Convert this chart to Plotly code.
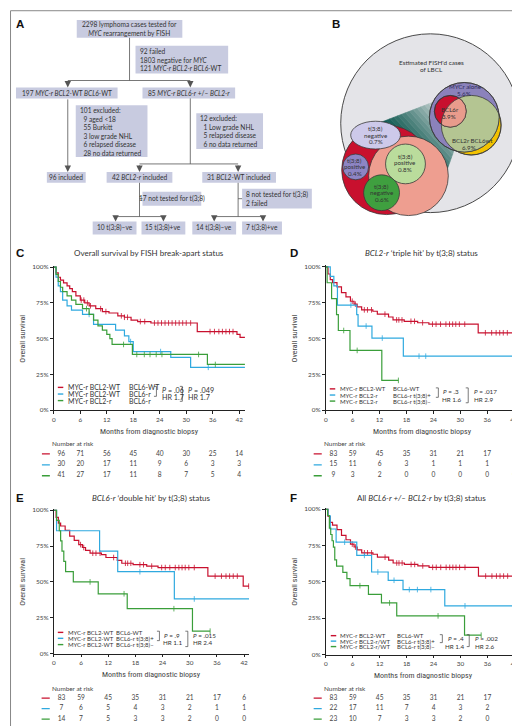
import numpy as np
import plotly.graph_objects as go

W, H = 520, 726
RED, BLUE, GREEN = "#c8102e", "#2fa9df", "#3a9e3a"
TXT = "#333333"
FONT = "Lato, 'Open Sans', sans-serif"
NARROW = "'Liberation Sans Narrow', 'Roboto Condensed', Roboto, sans-serif"

# ---------------- survival data (months, % alive) ----------------
month_ticks = [0, 6, 12, 18, 24, 30, 36, 42]
pct_ticks = [0, 25, 50, 75, 100]
pct_labels = ["0%", "25%", "50%", "75%", "100%"]

# C: by FISH break-apart status
c_wt_t = [0, 0.5, 1.0, 1.5, 2.2, 3.0, 3.6, 4.2, 5.0, 6.0, 7.0, 8.0, 9.5, 11.0, 12.5, 14.5, 16.0, 17.5, 19.0, 22.0, 32.5, 41.5, 42.2]
c_wt_s = [100, 96, 93, 91, 89, 87, 85, 83, 80, 77, 75, 73, 71, 69, 68, 66, 65, 63, 62, 61, 55, 53, 51]
c_wt_cens = [6.2, 6.8, 7.6, 8.3, 10.6, 11.8, 15.3, 16.0, 16.7, 19.6, 20.6, 22.8, 23.6, 24.4, 25.2, 26.0, 26.8,
             27.6, 28.4, 29.2, 30.0, 31.0, 35.4, 36.4, 37.4, 38.2, 39.0, 39.8, 40.6]
c_bcl6_t = [0, 0.5, 1.0, 1.5, 2.0, 3.0, 4.0, 6.5, 9.0, 14.0, 16.0, 17.0, 18.0, 26.5, 31.0]
c_bcl6_s = [100, 93, 87, 83, 77, 73, 70, 67, 60, 56, 52, 48, 41, 37, 30]
c_bcl6_cens = [8.0, 17.4, 24.2, 35.0]
c_bcl2_t = [0, 0.5, 1.0, 1.5, 2.0, 3.0, 4.0, 5.0, 6.5, 8.0, 9.0, 10.0, 11.0, 12.0, 12.7, 13.2, 17.8, 34.8]
c_bcl2_s = [100, 95, 90, 86, 83, 80, 77, 74, 71, 67, 63, 59, 56, 53, 50, 46, 39, 32]
c_bcl2_cens = [7.4, 15.8, 18.8, 20.5, 21.8, 23.2, 24.5, 32.8, 36.6]

# reference group MYC-r BCL2-WT BCL6-WT used in D, E and F
ref_t = [0, 0.5, 1.0, 1.5, 2.5, 3.5, 4.5, 5.5, 6.3, 7.0, 8.0, 10.5, 11.5, 14.0, 15.0, 17.5, 20.5, 23.0, 34.0, 41.8]
ref_s = [100, 95, 91, 89, 86, 82, 79, 76, 74, 72, 70, 69, 67, 65, 63, 62, 61, 60, 54, 47]
ref_cens = [5.9, 6.6, 8.6, 9.3, 10.2, 13.2, 15.8, 16.3, 17.0, 19.0, 19.8, 21.6, 23.8, 24.6, 25.6, 26.8, 27.6,
            28.3, 29.0, 29.8, 31.0, 35.6, 37.0, 38.0, 38.8, 39.6, 40.5, 43.0]

# D: BCL2-r triple hit
d_pos_t = [0, 1.0, 1.8, 2.6, 6.9, 7.2, 10.3, 17.3]
d_pos_s = [100, 93.3, 86.7, 73.3, 66.7, 58.7, 50.3, 37.7]
d_pos_cens = [5.6, 9.0, 12.6, 20.8, 22.3]
d_neg_t = [0, 0.3, 1.3, 2.4, 2.8, 5.4, 12.5]
d_neg_s = [100, 88.9, 77.8, 66.7, 55.6, 41.7, 20.8]
d_neg_cens = [4.0, 7.0, 16.2]

# E: BCL6-r double hit
e_pos_t = [0, 0.6, 10.1, 14.1, 26.6]
e_pos_s = [100, 85.7, 71.4, 57.1, 38.1]
e_pos_cens = [19.0, 31.0]
e_neg_t = [0, 0.6, 1.2, 1.5, 1.8, 2.2, 2.6, 4.3, 9.8, 16.2, 30.6]
e_neg_s = [100, 92.9, 85.7, 78.6, 71.4, 64.3, 57.1, 50.0, 41.7, 31.3, 15.6]
e_neg_cens = [8.0, 15.5, 26.5, 34.5]

# F: all BCL6-r +/- BCL2-r
f_pos_t = [0, 0.5, 1.0, 2.3, 6.9, 10.2, 13.9, 17.2, 26.5]
f_pos_s = [100, 95.5, 86.4, 77.3, 68.2, 56.8, 51.1, 44.7, 33.5]
f_pos_cens = [4.2, 8.6, 11.6, 15.2, 18.6, 20.4, 23.4, 31.0]
f_neg_t = [0, 0.4, 0.8, 1.1, 1.4, 1.7, 2.0, 2.4, 3.8, 4.7, 5.4, 9.5, 12.4, 15.8, 30.9]
f_neg_s = [100, 95.7, 87.0, 82.6, 78.3, 73.9, 65.2, 60.9, 56.5, 52.2, 47.4, 41.4, 35.5, 26.6, 13.3]
f_neg_cens = [7.6, 14.2, 25.0, 34.6]

# numbers at risk
risk_c = [[96, 71, 56, 45, 40, 30, 25, 14], [30, 20, 17, 11, 9, 6, 3, 3], [41, 27, 17, 11, 8, 7, 5, 4]]
risk_ref = [83, 59, 45, 35, 31, 21, 17, 6]
risk_d = [risk_ref, [15, 11, 6, 3, 1, 1, 1, 1], [9, 3, 2, 0, 0, 0, 0, 0]]
risk_e = [risk_ref, [7, 6, 5, 4, 3, 2, 1, 1], [14, 7, 5, 3, 3, 2, 0, 0]]
risk_f = [risk_ref, [22, 17, 11, 7, 4, 3, 2, 2], [23, 10, 7, 3, 3, 2, 0, 0]]


def fx(px):
    return px / W


def fy(py):
    return 1 - py / H


def step_at(t, s, tc):
    i = np.searchsorted(t, tc, side="right") - 1
    return s[i]


fig = go.Figure()
shapes, annos = [], []


def note(px, py, text, size=6.6, xanchor="left", yanchor="middle", color=TXT, family=FONT, align="left", **kw):
    annos.append(dict(x=fx(px), y=fy(py), xref="paper", yref="paper", text=text, showarrow=False,
                      xanchor=xanchor, yanchor=yanchor, align=align, borderpad=0,
                      font=dict(size=size, color=color, family=family), **kw))


def hline(x0, x1, y, color="#555", w=0.8):
    shapes.append(dict(type="line", xref="paper", yref="paper", x0=fx(x0), x1=fx(x1), y0=fy(y), y1=fy(y),
                       line=dict(color=color, width=w)))


def vline(x, y0, y1, color="#555", w=0.8):
    shapes.append(dict(type="line", xref="paper", yref="paper", x0=fx(x), x1=fx(x), y0=fy(y0), y1=fy(y1),
                       line=dict(color=color, width=w)))


def arrow(x, y0, y1):
    annos.append(dict(x=fx(x), y=fy(y1), xref="paper", yref="paper", ax=0, ay=-(y1 - y0), text="",
                      showarrow=True, arrowhead=2, arrowsize=1.6, arrowwidth=0.8, arrowcolor="#555"))


def poly_path(pts):
    return "M " + " L ".join(f"{fx(a):.5f},{fy(b):.5f}" for a, b in pts) + " Z"


def circle(cx, cy, r, fill, line="#3a3a3a", lw=0.8, rx=None):
    rx = r if rx is None else rx
    shapes.append(dict(type="circle", xref="paper", yref="paper", x0=fx(cx - rx), x1=fx(cx + rx),
                       y0=fy(cy + r), y1=fy(cy - r), fillcolor=fill,
                       line=dict(color=line, width=lw)))


def intersect(c1, c2, n=180):
    ang = np.linspace(0, 2 * np.pi, n, endpoint=False)
    pts = []
    for (ax_, ay_, ar), (bx, by, br) in ((c1, c2), (c2, c1)):
        xs, ys = ax_ + ar * np.cos(ang), ay_ + ar * np.sin(ang)
        keep = (xs - bx) ** 2 + (ys - by) ** 2 <= br ** 2
        pts += list(zip(xs[keep], ys[keep]))
    pts = np.array(pts)
    cen = pts.mean(axis=0)
    order = np.argsort(np.arctan2(pts[:, 1] - cen[1], pts[:, 0] - cen[0]))
    return [tuple(p) for p in pts[order]]


# ---------------- panel A: flowchart ----------------
BOX = "#c8cbe0"
boxes = [
    (67, 10, 173, 28, "2298 lymphoma cases tested for<br><i>MYC</i> rearrangement by FISH", "c"),
    (126, 36, 219, 64, "92 failed<br>1803 negative for <i>MYC</i><br>121 <i>MYC-r BCL2-r BCL6-</i>WT", "l"),
    (6, 78, 108, 89, "197 <i>MYC-r BCL2-</i>WT <i>BCL6-</i>WT", "c"),
    (133, 78, 226, 89, "85 <i>MYC-r BCL6-r</i> +/– <i>BCL2-r</i>", "c"),
    (66, 96, 138, 148, "101 excluded:<br>&nbsp;&nbsp;9 aged &lt;18<br>&nbsp;&nbsp;55 Burkitt<br>&nbsp;&nbsp;3 low grade NHL"
                       "<br>&nbsp;&nbsp;6 relapsed disease<br>&nbsp;&nbsp;28 no data returned", "l"),
    (187, 104, 254, 140, "12 excluded:<br>&nbsp;&nbsp;1 Low grade NHL<br>&nbsp;&nbsp;5 relapsed disease"
                         "<br>&nbsp;&nbsp;6 no data returned", "l"),
    (37, 163, 76, 174, "96 included", "c"),
    (97, 163, 163, 174, "42 <i>BCL2-r</i> included", "c"),
    (193, 163, 267, 174, "31 <i>BCL2-</i>WT included", "c"),
    (133, 183, 192, 197, "17 not tested for t(3;8)", "c"),
    (233, 180, 303, 200, "8 not tested for t(3;8)<br>2 failed", "l"),
    (83, 213, 127, 226, "10 t(3;8)–ve", "c"),
    (132, 213, 176, 226, "15 t(3;8)+ve", "c"),
    (183, 213, 227, 226, "14 t(3;8)–ve", "c"),
    (233, 213, 273, 226, "7 t(3;8)+ve", "c"),
]
for x0, y0, x1, y1, text, al in boxes:
    shapes.append(dict(type="rect", xref="paper", yref="paper", x0=fx(x0), x1=fx(x1), y0=fy(y1), y1=fy(y0),
                       fillcolor=BOX, line=dict(width=0), layer="below"))
    if al == "c":
        note((x0 + x1) / 2, (y0 + y1) / 2, text, xanchor="center", align="center")
    else:
        note(x0 + 3, (y0 + y1) / 2, text)

vline(120, 28, 71)
hline(58, 181, 71)
arrow(58, 71, 78)
arrow(181, 71, 78)
arrow(58, 89, 163)
vline(181, 89, 155)
hline(130, 229, 155)
arrow(130, 155, 163)
arrow(229, 155, 163)
vline(130, 174, 208)
hline(130, 133, 190)
hline(106, 154, 208)
arrow(106, 208, 213)
arrow(154, 208, 213)
vline(229, 174, 208)
hline(229, 233, 190)
hline(205, 254, 208)
arrow(205, 208, 213)
arrow(254, 208, 213)

# ---------------- panel B: Venn diagrams ----------------
circle(422, 114, 90, "#e4e4e8", line="#4a4a4a", lw=1)
note(423, 53, "Estimated FISH'd cases", size=6.4, xanchor="center")
note(423, 60, "of LBCL", size=6.4, xanchor="center")

# funnel between the zoomed and the overview diagram, dark next to the zoomed circles
u0, u1 = np.array([370, 114]), np.array([432, 90])
l0, l1 = np.array([432, 180]), np.array([454, 118])
dark, light = np.array([8, 84, 76]), np.array([224, 228, 228])
n_strip = 16
for k in range(n_strip):
    a, b = k / n_strip, (k + 1) / n_strip
    col = dark + (light - dark) * ((k + 0.5) / n_strip) ** 1.3
    pts = [u0 + a * (u1 - u0), u0 + b * (u1 - u0), l0 + b * (l1 - l0), l0 + a * (l1 - l0)]
    shapes.append(dict(type="path", xref="paper", yref="paper", path=poly_path(pts),
                       fillcolor=f"rgb({col[0]:.0f},{col[1]:.0f},{col[2]:.0f})",
                       line=dict(width=0.6, color=f"rgb({col[0]:.0f},{col[1]:.0f},{col[2]:.0f})")))

yel = (463, 116, 30)
pur = (456, 108, 35)
bc6 = (442, 102, 16)
circle(*yel, "#f2c200")
circle(*pur, "#8b82bb")
shapes.append(dict(type="path", xref="paper", yref="paper", path=poly_path(intersect(yel, pur)),
                   fillcolor="#b4c592", line=dict(width=0)))
circle(*bc6, RED)
shapes.append(dict(type="path", xref="paper", yref="paper", path=poly_path(intersect(bc6, yel)),
                   fillcolor="#e99b8c", line=dict(width=0)))
circle(*yel, "rgba(0,0,0,0)")
circle(*pur, "rgba(0,0,0,0)")
circle(*bc6, "rgba(0,0,0,0)")
note(457, 77, "MYCr alone", size=6.2, xanchor="center", color="#2c2a5a")
note(456, 84, "5.6%", size=6.2, xanchor="center", color="#2c2a5a")
note(442, 100, "BCL6r", size=6.2, xanchor="center")
note(441, 107, "3.9%", size=6.2, xanchor="center")
note(464, 131, "BCL2r BCL6wt", size=6.2, xanchor="center")
note(461, 138, "6.9%", size=6.2, xanchor="center")

circle(378, 161, 45, RED)
circle(400, 167, 40, "#ee9e90")
circle(367, 126, 14, "#cdc9ea", rx=25)
circle(347, 158, 13, "#8d85c4")
circle(397, 155, 20, "#badc9c")
circle(373, 184, 18, "#3f9f3f")
for cx, cy, lab, val in [(367, 126, "negative", "0.7%"), (346, 158, "positive", "0.4%"),
                         (397, 154, "positive", "0.8%"), (373, 184, "negative", "0.6%")]:
    note(cx, cy - 6.5, "t(3;8)", size=6.2, xanchor="center")
    note(cx, cy, lab, size=6.2, xanchor="center")
    note(cx, cy + 6.5, val, size=6.2, xanchor="center")

# ---------------- panels C-F: Kaplan-Meier ----------------
panels = [
    dict(x0=44, ppm=4.43, xmax=43.4, y0=403, ppp=1.44, rows=[447, 458, 469],
         curves=[(c_wt_t, c_wt_s, c_wt_cens, 43.3, RED), (c_bcl6_t, c_bcl6_s, c_bcl6_cens, 43.3, BLUE),
                 (c_bcl2_t, c_bcl2_s, c_bcl2_cens, 43.3, GREEN)], risk=risk_c),
    dict(x0=317, ppm=4.5, xmax=43.3, y0=403, ppp=1.444, rows=[447, 458, 469],
         curves=[(ref_t, ref_s, ref_cens, 43.3, RED), (d_pos_t, d_pos_s, d_pos_cens, 43.3, BLUE),
                 (d_neg_t, d_neg_s, d_neg_cens, 16.2, GREEN)], risk=risk_d),
    dict(x0=44, ppm=4.548, xmax=43.1, y0=648, ppp=1.443, rows=[693, 703.5, 714],
         curves=[(ref_t, ref_s, ref_cens, 43.1, RED), (e_pos_t, e_pos_s, e_pos_cens, 43.1, BLUE),
                 (e_neg_t, e_neg_s, e_neg_cens, 34.5, GREEN)], risk=risk_e),
    dict(x0=317, ppm=4.508, xmax=43.3, y0=649, ppp=1.463, rows=[693, 703.5, 714],
         curves=[(ref_t, ref_s, ref_cens, 43.3, RED), (f_pos_t, f_pos_s, f_pos_cens, 43.3, BLUE),
                 (f_neg_t, f_neg_s, f_neg_cens, 34.6, GREEN)], risk=risk_f),
]

axis_style = dict(showline=True, linecolor="#222", linewidth=0.9, ticks="outside", ticklen=3, tickwidth=0.8,
                  tickcolor="#222", showgrid=False, zeroline=False,
                  tickfont=dict(size=6.4, color="#444", family=FONT))
layout_axes = {}
for i, p in enumerate(panels):
    m, t = 2 * i + 1, 2 * i + 2
    xr = p["x0"] + p["xmax"] * p["ppm"]
    layout_axes[f"xaxis{m}"] = dict(domain=[fx(p["x0"]), fx(xr)], range=[0, p["xmax"]], tickvals=month_ticks,
                                    anchor=f"y{m}", **axis_style)
    layout_axes[f"yaxis{m}"] = dict(domain=[fy(p["y0"]), fy(p["y0"] - 101 * p["ppp"])], range=[0, 101],
                                    tickvals=pct_ticks, ticktext=pct_labels, anchor=f"x{m}", **axis_style)
    half = (p["rows"][1] - p["rows"][0]) / 2
    layout_axes[f"xaxis{t}"] = dict(domain=[fx(p["x0"] - 4 * p["ppm"]), fx(xr)], range=[-4, p["xmax"]],
                                    visible=False, anchor=f"y{t}")
    layout_axes[f"yaxis{t}"] = dict(domain=[fy(p["rows"][2] + half), fy(p["rows"][0] - half)], range=[3.5, 0.5],
                                    visible=False, anchor=f"x{t}")
    xa, ya = ("x" if m == 1 else f"x{m}"), ("y" if m == 1 else f"y{m}")
    for (tt, ss, cc, end, col), row, rk in zip(p["curves"], [1, 2, 3], p["risk"]):
        fig.add_trace(go.Scatter(x=tt + [end], y=ss + [ss[-1]], mode="lines", xaxis=xa, yaxis=ya,
                                 line=dict(color=col, width=1.2, shape="hv"), showlegend=False, hoverinfo="skip"))
        fig.add_trace(go.Scatter(x=cc, y=[step_at(tt, ss, c) for c in cc], mode="markers", xaxis=xa, yaxis=ya,
                                 marker=dict(symbol="line-ns", size=4, line=dict(width=0.8, color=col)),
                                 cliponaxis=False, showlegend=False, hoverinfo="skip"))
        fig.add_trace(go.Scatter(x=[-2.7, -0.9], y=[row, row], mode="lines", xaxis=f"x{t}", yaxis=f"y{t}",
                                 line=dict(color=col, width=1.3), showlegend=False, hoverinfo="skip"))
        fig.add_trace(go.Scatter(x=[1.7] + month_ticks[1:], y=[row] * len(rk), text=[str(v) for v in rk],
                                 mode="text", xaxis=f"x{t}", yaxis=f"y{t}", cliponaxis=False,
                                 textfont=dict(size=6.6, color="#444", family=FONT),
                                 showlegend=False, hoverinfo="skip"))
    # axis titles and risk header
    mid_x = (p["x0"] + xr) / 2
    note(mid_x, p["y0"] + 21, "Months from diagnostic biopsy", size=8, xanchor="center", family=NARROW,
         color="#444")
    note(p["x0"] - 31, p["y0"] - 50 * p["ppp"], "Overall survival", size=8, xanchor="center", family=NARROW,
         color="#444", textangle=-90)
    note(p["x0"] - 3, p["rows"][0] - 10, "Number at risk", size=6.4, color="#444")

# panel letters and titles
for lx, ly, lab in [(5, 14, "A"), (322, 14, "B"), (5, 245, "C"), (280, 245, "D"), (5, 491, "E"), (280, 491, "F")]:
    note(lx, ly, f"<b>{lab}</b>", size=11.5, family="'Liberation Sans', Arial, sans-serif", color="#111")
note(140, 245, "Overall survival by FISH break-apart status", size=8, xanchor="center")
note(413, 245, "<i>BCL2-r</i> ‘triple hit’ by t(3;8) status", size=8, xanchor="center")
note(142, 491, "<i>BCL6-r</i> ‘double hit’ by t(3;8) status", size=8, xanchor="center")
note(413, 491, "All <i>BCL6-r +/– BCL2-r</i> by t(3;8) status", size=8, xanchor="center")

# in-plot legends with P values
legends = [
    dict(rows=[380, 386.7, 393.3], dash=48, tx=57, col2=118, fs=6.9,
         labels=[("MYC-r BCL2-WT", "BCL6-WT"), ("MYC-r BCL2-WT", "BCL6-r"), ("MYC-r BCL2-r", "BCL6-r")],
         brackets=[(147, 379, 389, 151.5, "<i>P</i> = .06", 151.5, "HR 1.7"),
                   (173, 379, 394, 178, "<i>P</i> = .049", 178, "HR 1.7")]),
    dict(rows=[381.5, 387.7, 393.8], dash=321, tx=330, col2=383, fs=6.0,
         labels=[("MYC-r BCL2-WT", "BCL6-WT"), ("MYC-r BCL2-r", "BCL6-r t(3;8)+"),
                 ("MYC-r BCL2-r", "BCL6-r t(3;8)–")],
         brackets=[(430, 380.5, 390, 434, "<i>P</i> = .3", 432.5, "HR 1.6"),
                   (460, 380.5, 395.5, 465, "<i>P</i> = .017", 465, "HR 2.9")]),
    dict(rows=[626.7, 632.7, 639], dash=48, tx=57, col2=105.5, fs=6.0,
         labels=[("MYC-r BCL2-WT", "BCL6-WT"), ("MYC-r BCL2-WT", "BCL6-r t(3;8)+"),
                 ("MYC-r BCL2-WT", "BCL6-r t(3;8)–")],
         brackets=[(150, 625.5, 635, 154, "<i>P</i> = .9", 152.5, "HR 1.1"),
                   (178.5, 625.5, 641, 183, "<i>P</i> = .015", 183, "HR 2.4")]),
    dict(rows=[630, 635.5, 641], dash=322, tx=330, col2=387, fs=6.0,
         labels=[("MYC-r BCL2-WT", "BCL6-WT"), ("MYC-r BCL2-r/WT", "BCL6-r t(3;8)+"),
                 ("MYC-r BCL2-r/WT", "BCL6-r t(3;8)–")],
         brackets=[(434, 629, 637, 438.5, "<i>P</i> = .4", 435.5, "HR 1.4"),
                   (461, 629, 641, 465.5, "<i>P</i> = .002", 465.5, "HR 2.6")]),
]
for lg in legends:
    fs = lg["fs"]
    for y, (a, b), col in zip(lg["rows"], lg["labels"], [RED, BLUE, GREEN]):
        hline(lg["dash"], lg["dash"] + 5.5, y, color=col, w=1.4)
        note(lg["tx"], y, a, size=fs)
        note(lg["col2"], y, b, size=fs)
    for bx, yt, yb, px_, ptxt, hx, htxt in lg["brackets"]:
        shapes.append(dict(type="path", xref="paper", yref="paper",
                           path=f"M {fx(bx - 2.5)},{fy(yt)} L {fx(bx)},{fy(yt)} L {fx(bx)},{fy(yb)} L {fx(bx - 2.5)},{fy(yb)}",
                           line=dict(color="#444", width=0.7)))
        note(px_, yt + 4, ptxt, size=fs + 0.3)
        note(hx, yt + 11.5, htxt, size=fs + 0.3)

# outer frame
shapes.append(dict(type="rect", xref="paper", yref="paper", x0=0.001, x1=0.999, y0=0.001, y1=0.999,
                   line=dict(color="#888", width=1)))

fig.update_layout(width=W, height=H, margin=dict(l=0, r=0, t=0, b=0), paper_bgcolor="white",
                  plot_bgcolor="rgba(0,0,0,0)", showlegend=False, shapes=shapes, annotations=annos,
                  font=dict(family=FONT, color=TXT), **layout_axes)

fig.write_html("out.html")
